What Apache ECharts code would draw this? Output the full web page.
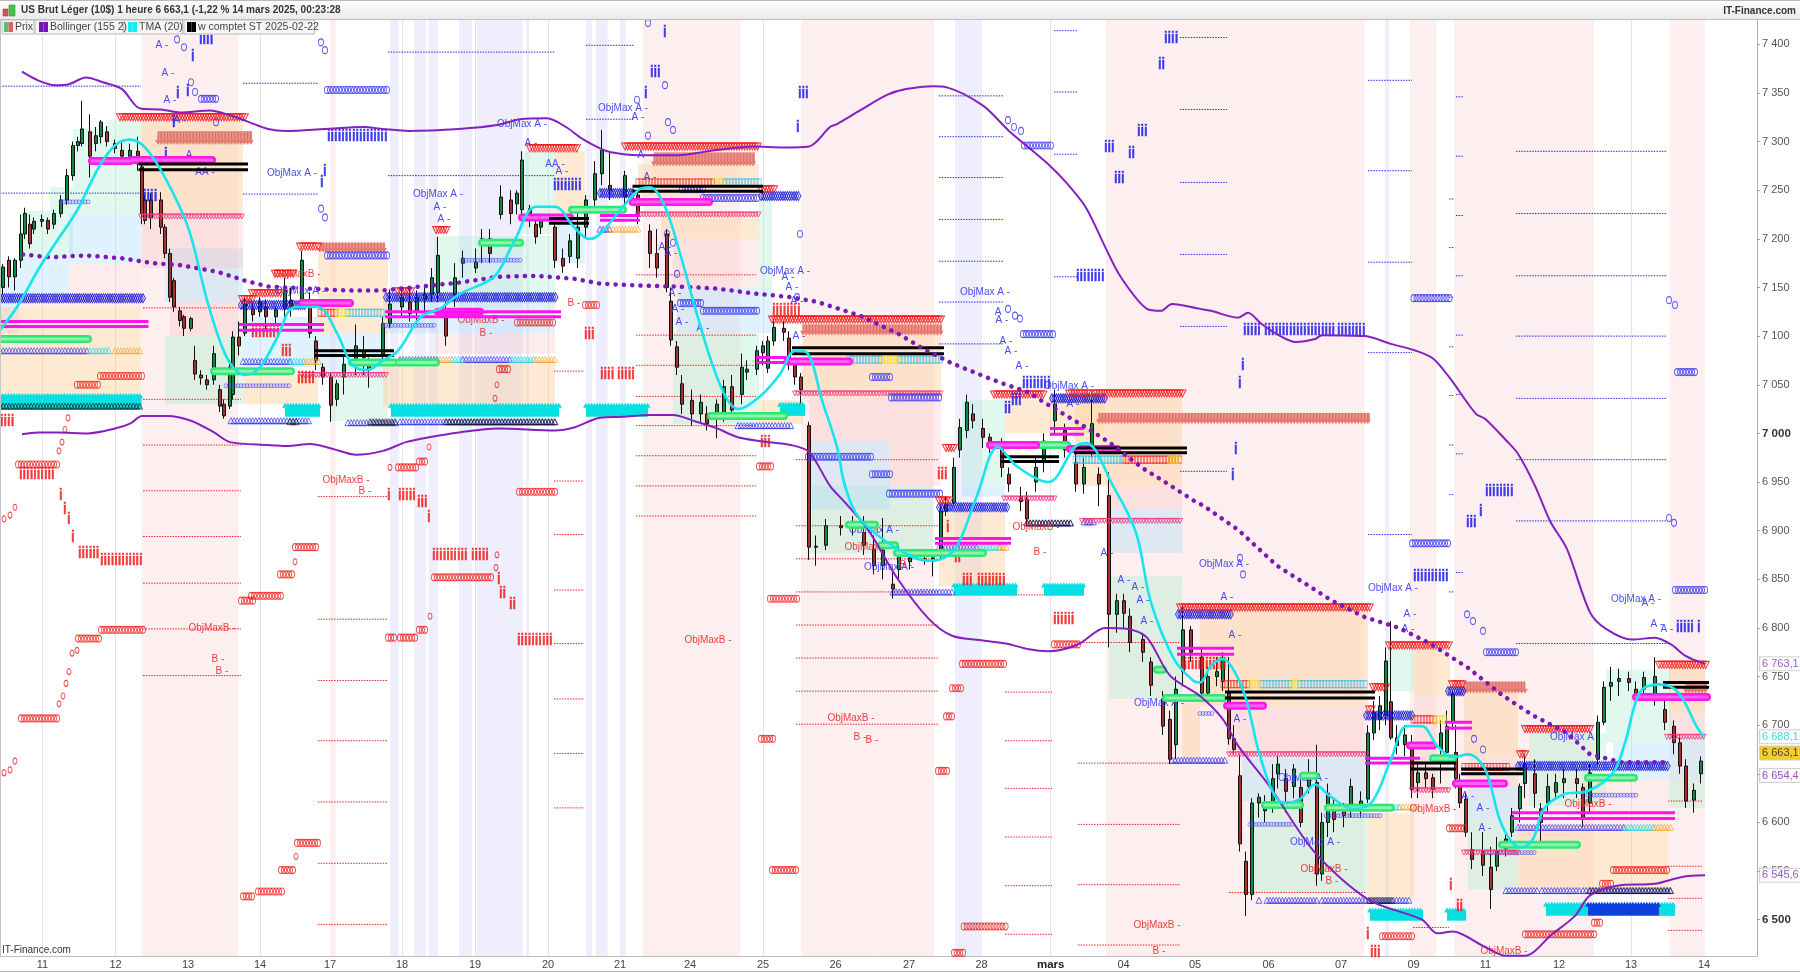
<!DOCTYPE html>
<html><head><meta charset="utf-8"><style>html,body{margin:0;padding:0;background:#fff}#c{width:1800px;height:972px}</style>
<script src="https://cdn.jsdelivr.net/npm/echarts@6/dist/echarts.min.js"></script></head>
<body><div id="c"></div>
<script>
// x values are positions on the chart's continuous trading-time scale (slots)
const xTickSlots=[42.5,115.6,188,260,330,402,475,548,620,690,763,835.6,909,981.5,1050.7,1123.6,1195,1268.5,1341,1413.5,1485.5,1559,1631,1704];
const xTickNames=['11','12','13','14','17','18','19','20','21','24','25','26','27','28','mars','04','05','06','07','09','11','12','13','14'];
const yTicks=[6500,6550,6600,6650,6700,6750,6800,6850,6900,6950,7000,7050,7100,7150,7200,7250,7300,7350,7400];
const priceTags=[['6 763,1',6763.1,'#8a2bc0','#fff',0],['6 688,1',6688.1,'#19c8d0','#fff',0],['6 663,1',6663.1,'#222','#f2c200',-8],['6 654,4',6654.4,'#8a2bc0','#fff',6],['6 545,6',6545.6,'#8a2bc0','#fff',0]];
const pinkBands=[[141.6,238.4],[330,335.6],[643,740.5],[801,934],[1106,1364.5],[1410,1436.5],[1454.5,1594],[1669.6,1705]];
const lavenderBands=[[390,398.8],[414,426],[428.6,438],[459,472],[476.5,522.8],[526,529],[586,592],[596,607.6],[620,625.6],[955,982],[1385,1389]];
// candles: slot, open, close, low, high
const candlesA=[[3,7150,7171,7143,7174],[9,7178,7161,7150,7182],[15,7161,7178,7147,7180],[21,7178,7205,7170,7225],[25,7205,7226,7200,7232],[30,7215,7195,7190,7225],[34,7210,7218,7205,7222],[42,7218,7220,7212,7225],[48,7219,7210,7205,7222],[54,7215,7226,7210,7230],[61,7226,7240,7222,7245],[67,7240,7265,7235,7272],[73,7265,7296,7260,7300],[78,7296,7300,7290,7305],[82,7298,7313,7295,7342],[90,7310,7285,7263,7328],[96,7298,7306,7290,7315],[101,7305,7320,7298,7322],[107,7310,7300,7295,7316],[115,7298,7293,7288,7302],[122,7291,7285,7280,7300],[130,7285,7291,7278,7298],[138,7290,7277,7270,7305],[142,7274,7226,7215,7280],[145,7240,7219,7215,7245],[151,7240,7222,7210,7247],[161,7240,7212,7205,7248],[165,7212,7185,7180,7215],[170,7185,7140,7135,7190],[174,7157,7130,7125,7160],[180,7126,7116,7110,7130],[184,7120,7108,7100,7122],[191,7108,7118,7105,7120],[195,7075,7061,7055,7090],[201,7060,7057,7050,7065],[207,7055,7050,7045,7060],[214,7055,7082,7050,7090],[220,7045,7028,7022,7050],[224,7030,7018,7015,7035],[230,7028,7068,7025,7075],[233,7040,7099,7035,7105],[239,7099,7090,7080,7115],[245,7103,7133,7100,7140],[253,7128,7122,7115,7135],[260,7125,7135,7120,7140],[266,7130,7120,7105,7138],[276,7120,7127,7112,7130],[285,7128,7147,7120,7160],[291,7137,7130,7120,7150],[302,7137,7178,7130,7188],[310,7137,7103,7098,7145],[316,7095,7075,7065,7100],[323,7068,7058,7050,7072],[331,7058,7029,7012,7062],[337,7035,7051,7028,7055],[344,7058,7071,7040,7080],[356,7075,7090,7060,7112],[364,7085,7078,7060,7100],[369,7073,7065,7047,7078]];
const candlesB=[[383,7082,7113,7075,7120],[390,7113,7133,7108,7148],[402,7130,7140,7120,7150],[410,7135,7123,7115,7150],[417,7125,7140,7112,7147],[425,7138,7143,7125,7150],[432,7143,7160,7135,7170],[438,7145,7183,7135,7202],[446,7123,7100,7090,7135],[455,7143,7160,7130,7175],[463,7175,7180,7160,7188],[476,7170,7176,7165,7190],[482,7195,7200,7175,7210],[490,7200,7185,7175,7210],[501,7225,7243,7220,7255],[511,7240,7226,7215,7250],[517,7236,7247,7225,7250],[522,7230,7281,7220,7290],[530,7231,7219,7212,7235],[536,7215,7202,7195,7220],[541,7212,7219,7205,7225],[555,7212,7178,7170,7215],[563,7180,7172,7165,7190],[570,7182,7198,7175,7205],[578,7180,7212,7170,7230],[586,7212,7240,7200,7245],[595,7240,7267,7230,7280],[602,7267,7291,7255,7312],[610,7255,7250,7240,7290],[625,7243,7265,7235,7270],[638,7245,7225,7215,7250],[650,7208,7185,7170,7215],[657,7185,7170,7160,7210],[667,7205,7150,7145,7210],[671,7136,7096,7090,7150],[677,7089,7068,7060,7095],[682,7051,7030,7020,7060],[692,7034,7020,7008,7045],[701,7020,7032,7012,7040],[707,7020,7010,7003,7028],[717,7015,7030,6995,7035],[724,7020,7048,7012,7055],[732,7048,7024,7015,7060],[742,7040,7068,7030,7082],[747,7063,7066,7055,7075],[757,7066,7085,7060,7090],[763,7083,7090,7070,7095],[768,7067,7095,7062,7100],[774,7095,7109,7090,7118],[784,7108,7104,7095,7115],[789,7098,7072,7065,7105],[795,7070,7058,7050,7078],[801,7058,7045,7020,7062]];
const candlesC=[[809,7008,6883,6870,7012],[816,6883,6884,6864,6895],[826,6885,6905,6880,6912],[841,6905,6903,6895,6915],[853,6904,6906,6895,6915],[864,6898,6885,6875,6915],[874,6881,6864,6855,6895],[883,6864,6880,6850,6913],[893,6845,6840,6830,6860],[899,6860,6877,6850,6885],[910,6868,6872,6860,6880],[925,6870,6871,6865,6878],[933,6870,6872,6853,6880],[941,6878,6920,6870,6925],[946,6920,6927,6915,6935],[954,6929,6965,6925,6975],[960,6983,7006,6975,7015],[967,7003,7032,6995,7040],[973,7020,7013,7005,7030],[983,7005,6996,6985,7015],[990,6996,6986,6980,7000],[1002,6985,6965,6955,6995],[1009,6958,6948,6940,6965],[1021,6935,6930,6920,6945],[1027,6932,6912,6905,6940],[1036,6950,6965,6940,6975],[1044,6970,6992,6960,7000],[1055,7013,7030,7000,7045],[1065,7003,6983,6975,7010],[1076,6970,6948,6940,6980],[1084,6948,6965,6938,6975],[1092,6983,7010,6975,7035],[1099,6958,6948,6925,6965],[1109,6936,6814,6780,6960],[1117,6814,6828,6795,6835],[1124,6828,6815,6800,6835],[1130,6812,6785,6775,6820],[1143,6788,6775,6765,6795],[1151,6765,6741,6730,6770],[1163,6727,6699,6690,6735],[1170,6706,6665,6660,6715],[1176,6680,6737,6665,6750],[1183,6755,6798,6740,6825],[1191,6798,6775,6765,6802],[1202,6770,6733,6725,6780],[1208,6733,6750,6725,6760],[1217,6750,6755,6740,6770],[1223,6745,6768,6735,6775],[1229,6733,6686,6680,6770],[1234,6686,6675,6670,6700]];
const candlesD=[[1240,6648,6578,6570,6670],[1246,6560,6526,6504,6570],[1252,6526,6620,6520,6625],[1259,6620,6626,6605,6630],[1265,6620,6612,6600,6628],[1273,6620,6645,6610,6660],[1278,6650,6660,6635,6668],[1286,6645,6632,6610,6655],[1294,6637,6655,6625,6660],[1301,6636,6600,6595,6645],[1309,6637,6651,6630,6665],[1317,6641,6547,6535,6680],[1322,6547,6600,6540,6610],[1328,6600,6630,6585,6640],[1334,6612,6603,6590,6625],[1344,6615,6607,6595,6620],[1351,6617,6637,6605,6645],[1361,6617,6622,6605,6632],[1368,6624,6692,6620,6700],[1374,6692,6713,6685,6725],[1380,6706,6720,6695,6730],[1386,6710,6766,6700,6780],[1391,6724,6687,6685,6807],[1397,6687,6679,6670,6700],[1405,6680,6690,6668,6700],[1412,6682,6634,6625,6690],[1418,6641,6651,6625,6660],[1426,6651,6645,6635,6660],[1433,6646,6634,6625,6650],[1441,6675,6692,6640,6705],[1447,6672,6699,6660,6715],[1453,6703,6732,6695,6735],[1456,6672,6645,6635,6700],[1460,6641,6620,6615,6650],[1466,6624,6590,6585,6630],[1472,6572,6562,6552,6590],[1483,6570,6556,6545,6590],[1491,6554,6531,6511,6575],[1497,6555,6570,6550,6585],[1506,6573,6583,6565,6590],[1512,6590,6607,6585,6615],[1520,6614,6637,6600,6640],[1525,6640,6660,6625,6670],[1535,6650,6630,6615,6665],[1541,6614,6600,6580,6620],[1548,6620,6637,6610,6650],[1556,6631,6641,6625,6650],[1564,6641,6645,6625,6655],[1577,6645,6640,6625,6655],[1583,6636,6603,6595,6640],[1590,6620,6651,6610,6660],[1598,6665,6703,6660,6710],[1604,6703,6739,6700,6745],[1611,6740,6744,6725,6760],[1619,6745,6748,6730,6758],[1629,6748,6744,6735,6755],[1636,6737,6727,6720,6745],[1644,6737,6749,6725,6755],[1655,6727,6750,6720,6770],[1665,6716,6703,6695,6730],[1674,6699,6682,6670,6705],[1680,6682,6658,6650,6690],[1686,6658,6622,6615,6665],[1694,6623,6633,6610,6640],[1701,6650,6663.1,6640,6668]];
const bollUpper=[[22,7372],[38,7363],[55,7358],[69,7359],[86,7366],[103,7361],[122,7354],[140,7334],[161,7333],[180,7330],[210,7332],[230,7327],[249,7320],[268,7313],[287,7311],[325,7313],[364,7315],[383,7313],[409,7311],[459,7313],[497,7317],[520,7323],[547,7324],[566,7315],[582,7303],[600,7293],[611,7289],[638,7286],[677,7286],[715,7291],[753,7295],[784,7294],[809,7295],[830,7315],[837,7318],[860,7332],[887,7348],[906,7354],[933,7357],[946,7356],[983,7337],[1009,7311],[1048,7277],[1067,7257],[1086,7232],[1105,7192],[1120,7162],[1147,7128],[1161,7126],[1172,7133],[1200,7128],[1211,7126],[1238,7119],[1248,7124],[1261,7113],[1277,7102],[1296,7094],[1315,7097],[1322,7101],[1365,7100],[1391,7092],[1416,7085],[1433,7077],[1449,7058],[1476,7020],[1485,7015],[1506,6993],[1518,6979],[1535,6946],[1550,6910],[1567,6881],[1590,6816],[1606,6799],[1632,6788],[1655,6790],[1671,6783],[1686,6771],[1705,6763.1]];
const bollLower=[[22,6999],[38,7001],[57,7001],[88,7000],[115,7005],[130,7010],[142,7018],[168,7018],[191,7013],[214,7001],[230,6991],[268,6988],[287,6987],[310,6989],[333,6984],[356,6978],[383,6982],[406,6991],[429,6996],[459,7001],[498,7005],[555,7003],[574,7006],[600,7016],[623,7017],[650,7019],[673,7019],[696,7012],[715,7006],[738,6996],[761,6992],[791,6988],[809,6981],[830,6946],[845,6929],[868,6901],[898,6850],[929,6809],[952,6792],[983,6787],[1006,6784],[1029,6778],[1048,6776],[1078,6783],[1105,6800],[1128,6799],[1147,6790],[1170,6751],[1200,6730],[1223,6706],[1238,6679],[1269,6638],[1315,6569],[1368,6521],[1422,6500],[1437,6486],[1453,6488],[1483,6473],[1506,6463],[1525,6463],[1552,6485],[1575,6504],[1590,6525],[1617,6535],[1655,6537],[1682,6544],[1705,6545.6]];
const bollMiddle=[[23,7184],[50,7181],[86,7183],[122,7180],[153,7175],[180,7173],[218,7166],[245,7157],[268,7151],[306,7149],[344,7147],[383,7147],[421,7151],[459,7155],[498,7161],[536,7162],[574,7159],[600,7154],[638,7152],[677,7151],[715,7149],[753,7144],[791,7140],[818,7135],[860,7121],[899,7102],[925,7086],[952,7072],[998,7053],[1029,7042],[1044,7032],[1086,7006],[1109,6991],[1143,6964],[1165,6950],[1195,6930],[1203,6926],[1238,6901],[1277,6864],[1332,6828],[1365,6811],[1399,6800],[1430,6784],[1468,6759],[1502,6731],[1533,6710],[1567,6692],[1590,6670],[1621,6662],[1671,6662]];
const tma20=[[0,7106],[19,7133],[38,7168],[57,7198],[77,7229],[99,7274],[115,7296],[130,7302],[145,7294],[165,7263],[188,7212],[207,7137],[222,7089],[233,7068],[245,7060],[260,7068],[276,7096],[295,7130],[318,7130],[337,7103],[352,7071],[367,7065],[383,7075],[398,7085],[421,7120],[440,7128],[459,7143],[494,7161],[513,7195],[536,7233],[555,7233],[574,7212],[589,7200],[600,7205],[638,7250],[650,7253],[665,7233],[680,7185],[696,7126],[711,7075],[726,7037],[738,7025],[761,7039],[780,7061],[795,7085],[807,7083],[822,7034],[837,6986],[845,6946],[860,6912],[898,6881],[929,6869],[944,6872],[958,6886],[977,6936],[998,6986],[1017,6966],[1048,6950],[1075,6986],[1086,6990],[1113,6946],[1136,6898],[1151,6826],[1174,6768],[1193,6746],[1200,6744],[1211,6761],[1223,6768],[1234,6756],[1246,6727],[1259,6672],[1273,6631],[1284,6620],[1300,6624],[1315,6639],[1330,6627],[1353,6614],[1372,6621],[1391,6665],[1407,6699],[1422,6699],[1437,6679],[1453,6667],[1468,6670],[1485,6655],[1502,6597],[1521,6574],[1533,6583],[1544,6614],[1564,6629],[1587,6632],[1613,6651],[1625,6682],[1640,6734],[1659,6742],[1678,6734],[1697,6698],[1704,6688.1]];
// pastel zones: x0,x1,top,bottom
const zoneGreen=[[21,50,7229,7181],[50,73,7253,7181],[73,107,7313,7226],[107,141,7322,7226],[165,243,7100,7030],[330,388,7058,7013],[434,555,7203,7143],[520,555,7290,7205],[673,759,7103,7010],[759,772,7243,7150],[812,933,6946,6877],[962,1005,7034,6946],[1109,1182,6853,6727],[1252,1368,6622,6528],[1388,1414,6782,6735],[1468,1518,6603,6531],[1529,1606,6692,6617],[1606,1671,6757,6682],[1669,1705,6644,6615]];
const zoneBlue=[[0,19,7171,7103],[19,69,7181,7143],[69,141,7226,7174],[165,243,7190,7135],[243,318,7120,7068],[318,388,7103,7058],[383,555,7140,7103],[555,585,7226,7175],[677,759,7150,7103],[759,772,7150,7103],[810,890,6992,6922],[962,1005,6946,6935],[1109,1182,6922,6877],[1242,1368,6667,6622],[1468,1518,6636,6603],[1613,1669,6682,6644],[1669,1705,6685,6644]];
const zonePink=[[19,69,7143,7130],[69,141,7174,7130],[141,243,7226,7170],[170,243,7135,7100],[436,555,7103,7082],[673,759,7200,7150],[810,941,7037,6992],[890,941,6992,6946],[1109,1182,6946,6922],[1227,1368,6720,6670],[1414,1450,6730,6631],[1468,1518,6668,6636],[1583,1669,6644,6597],[1669,1705,6713,6685]];
const zoneOrange=[[0,141,7130,7034],[141,243,7322,7226],[243,318,7060,7030],[318,388,7185,7103],[383,555,7075,7027],[555,585,7290,7226],[638,759,7277,7243],[661,759,7226,7200],[759,803,7034,7010],[803,941,7102,7037],[939,1005,6919,6843],[1005,1105,7034,7000],[1075,1182,7037,6946],[1182,1200,6723,6665],[1200,1368,6820,6720],[1368,1414,6610,6521],[1414,1450,6778,6730],[1464,1518,6733,6668],[1518,1669,6597,6531],[1669,1705,6764,6713]];
const dotBlue=[[0,141,7357],[0,141,7247],[243,318,7360],[243,318,7246],[388,555,7392],[388,555,7265],[586,634,7399],[586,634,7323],[939,1004,7347],[939,1004,7305],[939,1004,7263],[939,1004,7220],[939,1004,7177],[939,1004,7135],[939,1004,7092],[1054,1077,7414],[1054,1077,7351],[1054,1077,7287],[1054,1077,7161],[1180,1227,7407],[1180,1227,7333],[1180,1227,7258],[1180,1227,7184],[1180,1227,7110],[1180,1227,6961],[1368,1412,7363],[1368,1412,7270],[1368,1412,7176],[1368,1412,7083],[1368,1412,6896],[1456,1464,7346],[1456,1464,7285],[1456,1464,7224],[1456,1464,7162],[1456,1464,7101],[1456,1464,7040],[1456,1464,6979],[1456,1464,6857],[1449,1454,7241],[1449,1454,7191],[1449,1454,7140],[1449,1454,7089],[1449,1454,7039],[1449,1454,6988],[1449,1454,6937],[1449,1454,6837],[1516,1667,7290],[1516,1667,7226],[1516,1667,7162],[1516,1667,7100],[1516,1667,7036],[1516,1667,6973],[1516,1667,6910],[1516,1667,6784]];
const dotRed=[[143,241,7129],[143,241,7035],[143,241,6988],[143,241,6941],[143,241,6894],[143,241,6846],[143,241,6799],[143,241,6751],[318,387,6935],[318,387,6809],[318,387,6746],[318,387,6684],[318,387,6621],[318,387,6558],[318,387,6495],[554,584,7064],[554,584,6951],[554,584,6896],[554,584,6839],[554,584,6784],[554,584,6727],[554,584,6671],[554,584,6615],[636,756,7163],[636,756,7101],[636,756,7070],[636,756,7038],[636,756,7008],[636,756,6977],[636,756,6946],[636,756,6915],[796,938,6973],[796,938,6905],[796,938,6871],[796,938,6837],[796,938,6803],[796,938,6769],[796,938,6735],[796,938,6701],[1005,1052,6734],[1005,1052,6684],[1005,1052,6635],[1005,1052,6585],[1005,1052,6535],[1005,1052,6485],[1015,1044,6834],[1078,1180,6785],[1078,1180,6661],[1078,1180,6598],[1078,1180,6536],[1078,1180,6474],[1229,1366,6528],[1413,1449,6492],[1668,1703,6622],[1668,1703,6555],[1668,1703,6522],[1668,1703,6489]];
const magentaLines=[[0,148.5,7115],[0,148.5,7110],[239,324,7112],[239,324,7106],[385,561,7125],[385,561,7120],[600,640,7224],[600,640,7219],[756,790,7078],[756,790,7073],[1050,1084,7005],[1050,1084,6999],[935,1011,6892],[935,1011,6887],[1177,1234,6779],[1177,1234,6773],[1365,1420,6666],[1365,1420,6661],[1445,1472,6703],[1445,1472,6697],[1512,1675,6610],[1512,1675,6604]];
const blackLines=[[138.5,248,7277],[138.5,248,7271],[314,394,7085],[314,394,7080],[549,589,7221],[549,589,7216],[632.5,763,7254],[632.5,763,7249],[792,944,7088],[792,944,7082],[1001,1059,6976],[1001,1059,6971],[1074,1187,6985],[1074,1187,6980],[1225,1375,6734],[1225,1375,6728],[1410,1456,6661],[1410,1456,6655],[1461,1523,6655],[1461,1523,6650],[1663,1709,6744],[1663,1709,6739]];
const magentaPills=[[92,130,7280],[132,212,7281],[302,350,7134],[438,480,7125],[522,570,7222],[632.5,709,7238],[787.5,849,7074],[990,1036,6988],[1070,1117,6984],[1227,1263,6720],[1410,1433,6679],[1456,1504,6640],[1636,1707,6729]];
const greenPills=[[0,88,7097],[214,291,7064],[352,394,7073],[398,436,7073],[482,520,7196],[572,623,7230],[711,784,7018],[849,875,6906],[881,895,6885],[897,983,6877],[1038,1067,6988],[1157,1163,6757],[1166,1223,6728],[1265,1300,6618],[1328,1391,6615],[1303,1315,6648],[1502,1577,6577],[1588,1634,6646],[1433,1453,6666]];
const cyanBlocks=[[0,141.6,7039,7025],[285,320,7029,7017],[391,559,7029,7017],[586,648,7029,7017],[780,805,7030,7018],[954,1017,6844,6833],[1044,1084,6844,6833],[1370,1423,6510,6499],[1447,1466,6510,6499],[1546,1588,6516,6504],[1659,1675,6516,6504]];
const deepBlueBlocks=[[1588,1659,6516,6504]];
const salmonBlocks=[[158,252,7311,7299],[320,385,7196,7188],[654,755,7289,7277],[803,942,7112,7103],[1099,1370,7021,7012],[1464,1525,6745,6735],[1686,1707,6745,6735]];
const triDownRed=[[120,245,7325],[530,578,7293],[300,320,7192],[242,254,7138],[252,283,7144],[436,448,7209],[398,411,7146],[275,295,7164],[625,759,7295],[761,775,7251],[772,942,7117],[994,1044,7040],[1069,1090,7041],[1094,1184,7041],[946,956,6985],[939,950,6931],[1180,1370,6821],[1389,1449,6782],[1452,1464,6742],[1525,1590,6696],[1659,1707,6762],[1520,1527,6670],[1373,1386,6739],[1369,1372,6716]];
const pinkRows=[[141,243,7223],[302,388,7060],[638,759,7225],[795,941,7041],[1004,1055,6933],[1082,1182,6910],[1229,1368,6670],[1412,1449,6633],[1464,1518,6569],[1667,1705,6688]];
const blueHatchRows=[[0,143,7139],[241,306,7132],[386,557,7140],[600,634,7247],[761,799,7244],[1052,1105,7036],[939,1008,6924],[1178,1232,6814],[1366,1414,6710],[1448,1464,6735],[1518,1669,6658]];
const blueSmallRows=[[61,88,7238],[463,520,7178],[383,436,7111],[226,289,7049],[1250,1292,6598],[1326,1380,6607],[1588,1636,6628],[1486,1535,6569],[1200,1212,6712]];
const triUpBlue=[[231,310,7013],[348,367,7011],[371,396,7011],[400,557,7012],[738,793,7008],[893,954,6837],[1027,1071,6908],[1084,1096,6909],[1172,1227,6664],[1259,1262,6520],[1267,1317,6520],[1322,1410,6520],[1506,1540,6530],[1542,1581,6530],[1583,1671,6530]];
const triUpBlack=[[0,141,7028],[446,557,7012],[1027,1071,6908],[1370,1392,6520],[1590,1671,6530],[290,298,7012],[370,396,7012]];
const triMixBlue=[[0,88,7085],[243,291,7074],[400,440,7076],[463,512,7076],[939,977,6883],[1518,1625,6595],[1330,1380,6616],[600,610,7210]];
const triMixCyan=[[90,111,7085],[291,306,7074],[452,462,7076],[512,536,7076],[977,1000,6883],[1380,1400,6616],[1625,1655,6595]];
const triMixOrange=[[115,141,7085],[306,319,7074],[440,452,7076],[536,555,7076],[610,638,7210],[1000,1008,6883],[1400,1416,6616],[1655,1671,6595]];
const rainbowRed=[[320,337,7124],[638,715,7258],[1223,1250,6742],[1413,1435,6706],[1124,1180,6973],[1464,1510,6657]];
const rainbowYellow=[[337,348,7124],[715,725,7258],[880,900,7076],[1250,1262,6742],[1290,1300,6742],[1435,1445,6706],[1170,1182,6973]];
const rainbowCyan=[[348,385,7124],[725,760,7258],[849,880,7076],[900,941,7076],[1262,1290,6742],[1300,1368,6742],[1075,1124,6973]];
const blueORows=[[327,388,7353],[327,388,7183],[201,216,7344],[682,703,7251],[703,757,7242],[680,701,7134],[703,757,7126],[808,872,6976],[872,891,6958],[872,891,7058],[891,940,7037],[889,940,6938],[1023,1053,7102],[1024,1053,7296],[1413.5,1450,7139],[1412,1450,6887],[1677,1696,7063],[1486,1518,6775],[1675,1705,6839]];
const redORows=[[78,101,6789],[101,143.5,6798],[21,59,6707],[241,253,6828],[251,283,6833],[295,318,6883],[280,294,6855],[243,253,6524],[258,283,6529],[281,294,6551],[297,318,6579],[434,492,6852],[519,555,6940],[400,417,6790],[419,427,6798],[388,394,6790],[100,142,7059],[77,100,7050],[18,59,6968],[517,555,7114],[499,509,7066],[585,597,7132],[770,797,6830],[761,773,6686],[772,797,6551],[962,1006,6763],[952,963,6738],[946,954,6709],[938,948,6653],[963.6,1006,6493],[954,963,6466],[1054,1078,6783],[759,772,6966],[1382,1414,6483],[1525,1595,6485],[1594,1602,6497],[1613,1669,6551],[1449,1466,6594],[1602,1613,6537],[398,417,6965],[419,427,6971]];
const blueIRows=[[327,387,7305],[199,214,7405],[143,157,7243],[553,582,7255],[798,807,7349],[650,661,7371],[644,649,7349],[1164,1179,7406],[1158,1164,7379],[1137,1146,7310],[1104,1113,7294],[1128,1136,7288],[1114,1123,7262],[1076,1104,7161],[1022,1051,7051],[1011,1021,7034],[1004,1010,7025],[1243,1260,7106],[1264,1334,7106],[1337,1366,7106],[1485,1515,6940],[1413,1449,6853],[1466,1476,6908],[1479,1484,6920],[1676,1694,6800],[1697,1702,6800],[191,194,7387],[164,167,7287],[323,326,7269],[320,325,7258],[176,179,7349],[186,191,7351],[663,666,7412],[796,799,7314],[1241,1244,7070],[1238,1241,7051],[1234,1237,6983],[1231,1236,6957],[172,175,7320]];
const redIRows=[[78,98,6876],[100,141,6869],[59,62,6936],[63,66,6922],[67,70,6911],[71,76,6893],[432,467,6874],[471,490,6874],[499,507,6835],[509,516,6824],[517,553,6787],[387,392,6936],[398,414,6936],[417,426,6929],[427,431,6913],[497,500,6850],[19,56,6958],[0,15,7012],[251,280,7104],[281,292,7084],[297,316,7056],[584,595,7102],[600,615,7060],[617,634,7060],[760,770,6991],[772,799,7126],[946,951,6903],[954,960,6872],[962,973,6849],[977,1004,6849],[1053,1076,6809],[937,946,6958],[1180,1227,6762],[1449,1453,6535],[1456,1464,6514],[1366,1369,6485],[1370,1382,6466]];
const blueGlyphs=[['A -',162,7399],['A -',168,7370],['A -',170,7343],['A -',180,7322],['AA -',205,7268],['A',189,7286],['ObjMax A -',292,7267],['ObjMax A -',438,7246],['A -',440,7232],['A -',444,7220],['ObjMax A -',522,7318],['A -',531,7298],['AA -',555,7277],['A -',562,7269],['ObjMax A -',300,7146],['ObjMax A -',623,7334],['A -',638,7325],['A -',644,7286],['A -',650,7263],['A -',665,7191],['A -',671,7185],['A -',675,7144],['A -',678,7128],['A -',682,7114],['A -',703,7108],['ObjMax A -',785,7167],['A -',788,7161],['A -',792,7150],['A -',797,7136],['A -',799,7100],['ObjMax A -',985,7145],['A',998,7125],['A -',1002,7116],['A -',1006,7095],['A -',1011,7084],['A -',1022,7069],['ObjMax A -',1069,7048],['A -',1073,7030],['ObjMax A -',874,6900],['ObjMax A -',889,6862],['A -',1124,6849],['A -',1138,6842],['A -',1143,6828],['A -',1147,6807],['A -',1107,6877],['ObjMax A -',1159,6723],['ObjMax A -',1224,6865],['A -',1227,6832],['A -',1235,6792],['A -',1240,6706],['ObjMax A -',1393,6841],['A -',1410,6814],['A -',1408,6799],['ObjMax A -',1315,6580],['ObjMax A -',1303,6645],['A -',1468,6627],['A -',1483,6615],['A -',1485,6594],['ObjMax A -',1575,6688],['ObjMax A -',1636,6829],['A -',1648,6825],['A -',1657,6804],['A -',1667,6799]];
const redGlyphs=[['ObjMaxB -',212,6800],['B -',218,6768],['B -',222,6755],['ObjMaxB -',346,6952],['ObjMaxB -',481,7116],['ObjMaxB -',297,7164],['B -',486,7103],['B -',574,7134],['B -',365,6940],['ObjMaxB -',708,6787],['ObjMaxB -',851,6707],['B -',860,6688],['B -',872,6684],['ObjMaxB -',1036,6904],['B -',1040,6878],['B -',906,6864],['ObjMaxB -',868,6883],['ObjMaxB -',1157,6494],['B -',1159,6468],['ObjMaxB -',1324,6552],['B -',1332,6540],['ObjMaxB -',1433,6614],['ObjMaxB -',1504,6468],['ObjMaxB -',1588,6619]];
const blueOs=[[177,7405],[184,7397],[191,7361],[195,7351],[216,7320],[321,7402],[325,7394],[321,7231],[325,7222],[648,7422],[665,7358],[637,7343],[668,7320],[673,7312],[648,7306],[797,7140],[800,7205],[667,7205],[673,7196],[677,7164],[1008,7322],[1014,7315],[1021,7311],[1008,7128],[1015,7121],[1020,7118],[1669,7137],[1675,7132],[1669,6913],[1674,6908],[1467,6814],[1473,6807],[1483,6797],[1240,6872],[1243,6855],[1483,6675],[1474,6686]];
const redOs=[[59,6722],[63,6730],[66,6743],[69,6755],[72,6774],[77,6777],[295,6868],[296,6565],[15,6924],[10,6916],[4,6912],[15,6663],[10,6654],[4,6651],[430,6812],[497,6875],[496,6862],[68,7016],[65,7004],[62,6991],[59,6982],[390,6965],[429,6986],[497,7050],[495,7036]];

const FONT='"Liberation Sans",Arial,sans-serif';
const Y_MIN=6462.7,Y_MAX=7425,X_MAX=1757;
const fmtPrice=v=>{const s=String(v);return s[0]+' '+s.slice(1)};

function rects(name,rows,color,z){return{type:'custom',name,z,silent:true,animation:false,data:rows,encode:{x:[0,1],y:[2,3]},
 renderItem:(p,api)=>{const a=api.coord([api.value(0),api.value(2)]),b=api.coord([api.value(1),api.value(3)]);
  return{type:'rect',shape:{x:a[0],y:a[1],width:b[0]-a[0],height:b[1]-a[1]},style:{fill:color}}}}}
function segs(name,rows,style,z){return{type:'custom',name,z,silent:true,animation:false,data:rows,encode:{x:[0,1],y:2},
 renderItem:(p,api)=>{const a=api.coord([api.value(0),api.value(2)]),b=api.coord([api.value(1),api.value(2)]);
  return{type:'line',shape:{x1:a[0],y1:a[1],x2:b[0],y2:b[1]},style:Object.assign({fill:null},style)}}}}
function marks(name,rows,o){const pts=[];rows.forEach(r=>{for(let x=r[0];x<=r[1]+.01;x+=o.step)pts.push([x,r[2]])});
 return{type:'scatter',name,z:o.z||6,silent:true,animation:false,large:false,symbol:o.symbol,symbolSize:o.size,symbolRotate:o.rotate||0,data:pts,
  itemStyle:o.filled?{color:o.color,opacity:o.opacity||1}:{color:'rgba(0,0,0,0)',borderColor:o.color,borderWidth:o.bw||.8}}}
function iRows(name,rows,color){return{type:'scatter',name,z:7,silent:true,animation:false,symbolSize:0,
 data:rows.map(r=>({value:[r[0],r[2]],label:{formatter:'i'.repeat(Math.max(1,Math.round((r[1]-r[0])/3.55)))}})),
 label:{show:true,position:'right',distance:0,color,fontFamily:FONT,fontSize:16,padding:0,textBorderColor:color,textBorderWidth:.6}}}
function glyphs(name,rows,color){return{type:'scatter',name,z:7,silent:true,animation:false,symbolSize:0,
 data:rows.map(r=>({value:[r[1],r[2]],label:{formatter:r[0]}})),
 label:{show:true,position:'inside',color,fontFamily:FONT,fontSize:10,opacity:.9}}}
const candleData=[].concat(candlesA,candlesB,candlesC,candlesD);

const series=[
 rects('rose',pinkBands.map(b=>[b[0],b[1],Y_MAX,Y_MIN]),'#fdefef',1),
 rects('lav',lavenderBands.map(b=>[b[0],b[1],Y_MAX,Y_MIN]),'#eeeefd',1),
 rects('zG',zoneGreen,'rgba(170,235,205,.36)',2),
 rects('zB',zoneBlue,'rgba(165,220,250,.36)',2),
 rects('zP',zonePink,'rgba(250,185,185,.28)',2),
 rects('zO',zoneOrange,'rgba(253,205,150,.42)',2),
 segs('dotB',dotBlue,{stroke:'#2a2aee',lineWidth:1,lineDash:[1.5,1.2]},3),
 segs('dotR',dotRed,{stroke:'#e8262a',lineWidth:1,lineDash:[1.5,1.2]},3),
 {type:'candlestick',name:'Prix',z:4,silent:true,animation:false,barWidth:3,data:candleData,encode:{x:0,y:[1,2,3,4]},
  itemStyle:{color:'#0e8a45',color0:'#a83030',borderColor:'#111',borderColor0:'#111',borderWidth:1}},
 rects('cyanB',cyanBlocks,'#06e0e2',5),
 rects('deepB',deepBlueBlocks,'#0a3fe0',5),
 marks('cyanTop',cyanBlocks.map(b=>[b[0],b[1],b[2]]),{symbol:'triangle',size:[6,5],color:'#06e0e2',step:2.8,filled:true,z:5}),
 marks('deepTop',deepBlueBlocks.map(b=>[b[0],b[1],b[2]]),{symbol:'triangle',size:[6,5],color:'#0a3fe0',step:2.8,filled:true,z:5}),
 rects('salmon',salmonBlocks,'#ee9088',5),
 marks('salmonHatch',salmonBlocks.map(b=>[b[0],b[1],(b[2]+b[3])/2]),{symbol:'rect',size:[1,9],color:'#d66a60',step:3.2,filled:true,z:5}),
 marks('salmonChev',salmonBlocks.map(b=>[b[0],b[1],b[3]]),{symbol:'triangle',rotate:180,size:[6,5],color:'#e87a72',step:3.2,filled:true,z:5}),
 marks('blueHatch',blueHatchRows,{symbol:'diamond',size:[5,9],color:'#1010d8',step:2.2,z:6,bw:1.1}),
 marks('blueSmall',blueSmallRows,{symbol:'circle',size:4,color:'#4a4af5',step:3,z:6}),
 marks('triUpB',triUpBlue,{symbol:'triangle',size:6,color:'#1c1ce8',step:3.1,z:6}),
 marks('triUpK',triUpBlack,{symbol:'triangle',size:6,color:'#111',step:3.1,z:6}),
 marks('triMB',triMixBlue,{symbol:'triangle',size:6,color:'#2f2ff0',step:3.1,z:6}),
 marks('triMC',triMixCyan,{symbol:'triangle',size:6,color:'#19d0e8',step:3.1,z:6}),
 marks('triMO',triMixOrange,{symbol:'triangle',size:6,color:'#f5a020',step:3.1,z:6}),
 marks('rbR',rainbowRed,{symbol:'rect',size:[4,7],color:'#ee2020',step:3.1,z:6}),
 marks('rbY',rainbowYellow,{symbol:'rect',size:[4,7],color:'#f5e000',step:3.1,z:6}),
 marks('rbC',rainbowCyan,{symbol:'rect',size:[4,7],color:'#2ab8ee',step:3.1,z:6}),
 marks('pinkRow',pinkRows,{symbol:'triangle',rotate:180,size:5,color:'#f03580',step:2.8,z:6,bw:1}),
 marks('triRed',triDownRed,{symbol:'triangle',rotate:180,size:7,color:'#f41818',step:2.6,z:7,bw:1.1}),
 marks('oBlue',blueORows,{symbol:'circle',size:[5,7],color:'#2e2ef5',step:3,z:6,bw:1}),
 marks('oRed',redORows,{symbol:'circle',size:[5,7],color:'#f01818',step:3,z:6,bw:1}),
 marks('oBlueS',blueOs.map(p=>[p[0],p[0],p[1]]),{symbol:'circle',size:[5,7],color:'#2e2ef5',step:5,z:6,bw:1}),
 marks('oRedS',redOs.map(p=>[p[0],p[0],p[1]]),{symbol:'circle',size:[4,6],color:'#f01818',step:5,z:6,bw:1}),
 segs('gpOut',greenPills,{stroke:'#2fe870',lineWidth:8,lineCap:'round'},8),
 segs('gpIn',greenPills,{stroke:'#8ff0b0',lineWidth:3,lineCap:'round'},8),
 segs('mpOut',magentaPills,{stroke:'#ff18e8',lineWidth:8,lineCap:'round'},8),
 segs('mpIn',magentaPills,{stroke:'#ff5cf0',lineWidth:3,lineCap:'round'},8),
 segs('magenta',magentaLines,{stroke:'#ff10ee',lineWidth:3},8),
 segs('black',blackLines,{stroke:'#000',lineWidth:3},9),
 iRows('iBlue',blueIRows,'#1414f0'),
 iRows('iRed',redIRows,'#f01414'),
 glyphs('gBlue',blueGlyphs,'#3636f5'),
 glyphs('gRed',redGlyphs,'#ee2a2a'),
 {type:'line',name:'Bollinger up',z:10,silent:true,animation:false,symbol:'none',smooth:.3,data:bollUpper,lineStyle:{color:'#8420c0',width:2}},
 {type:'line',name:'Bollinger low',z:10,silent:true,animation:false,symbol:'none',smooth:.3,data:bollLower,lineStyle:{color:'#8420c0',width:2}},
 {type:'line',name:'Bollinger mid',z:10,silent:true,animation:false,symbol:'none',data:bollMiddle,lineStyle:{color:'#7a18b8',width:4.5,type:[.1,8.2],cap:'round'}},
 {type:'line',name:'TMA',z:11,silent:true,animation:false,symbol:'none',smooth:.35,data:tma20,lineStyle:{color:'#16e4ee',width:2.6}},
 {type:'scatter',name:'tags',z:20,silent:true,animation:false,clip:false,symbolSize:0,
  data:priceTags.map(t=>({value:[X_MAX,t[1]],label:{formatter:t[0],color:t[2],backgroundColor:t[3],offset:[0,t[4]]}})),
  label:{show:true,position:'right',distance:3,fontFamily:FONT,fontSize:11,borderColor:'#c8c8c8',borderWidth:1,padding:[1,2,0,2],lineHeight:12}}
];
const legend=[[2,32,'Prix'],[35,88,'Bollinger (155 2)'],[124,58.5,'TMA (20)'],[184,130.5,'w comptet ST 2025-02-22']];
const swatches=[['#55c070','#e06060',4],['#7a10b8','#7a10b8',39],['#10f0f0','#10f0f0',128],['#000','#000',187]];
const graphics=[
 {type:'rect',z:50,shape:{x:0,y:0,width:1800,height:19},style:{fill:new echarts.graphic.LinearGradient(0,0,0,1,[{offset:0,color:'#fff'},{offset:1,color:'#eaeaea'}])}},
 {type:'rect',z:51,shape:{x:0,y:0,width:1800,height:1},style:{fill:'#bbb'}},
 {type:'rect',z:51,shape:{x:0,y:19,width:1800,height:1},style:{fill:'#bdbdbd'}},
 {type:'rect',z:51,shape:{x:0,y:971,width:1800,height:1},style:{fill:'#bbb'}},
 {type:'rect',z:51,shape:{x:0,y:20,width:1,height:936},style:{fill:'#c4c4c4'}},
 {type:'rect',z:52,shape:{x:3,y:9,width:5,height:7},style:{fill:'#e05050',stroke:'#a33',lineWidth:.5}},
 {type:'rect',z:52,shape:{x:9,y:5,width:6,height:11},style:{fill:'#48c048',stroke:'#282',lineWidth:.5}},
 {type:'text',z:52,x:21,y:10,style:{text:'US Brut Léger (10$) 1 heure 6 663,1 (-1,22 % 14 mars 2025, 00:23:28',font:'bold 10px '+FONT,fill:'#333',textVerticalAlign:'middle'}},
 {type:'text',z:52,x:1796,y:11,style:{text:'IT-Finance.com',font:'bold 10px '+FONT,fill:'#333',textAlign:'right',textVerticalAlign:'middle'}},
 {type:'text',z:52,x:2,y:950,style:{text:'IT-Finance.com',font:'10px '+FONT,fill:'#333',textVerticalAlign:'middle'}}
];
legend.forEach((l,i)=>{
 graphics.push({type:'rect',z:53,shape:{x:l[0],y:20,width:l[1],height:14},style:{fill:'#f6f6f6',stroke:'#bbb',lineWidth:1}});
 const s=swatches[i];
 graphics.push({type:'rect',z:54,shape:{x:s[2],y:22,width:4.5,height:10},style:{fill:s[0]}});
 graphics.push({type:'rect',z:54,shape:{x:s[2]+4.5,y:22,width:4.5,height:10},style:{fill:s[1]}});
 graphics.push({type:'text',z:54,x:s[2]+11,y:27,style:{text:l[2],font:'10.5px '+FONT,fill:'#444',textVerticalAlign:'middle'}});
});
const chart=echarts.init(document.getElementById('c'),null,{renderer:'canvas'});
chart.setOption({animation:false,backgroundColor:'#fff',textStyle:{fontFamily:FONT},
 grid:{left:0,right:43,top:20,bottom:16,containLabel:false},
 xAxis:{type:'value',min:0,max:X_MAX,
  axisLine:{show:true,onZero:false,lineStyle:{color:'#bdbdbd',width:1}},
  axisTick:{show:false,customValues:xTickSlots},
  axisLabel:{show:true,customValues:xTickSlots,margin:3,color:'#444',fontSize:11,hideOverlap:false,
   formatter:v=>{const n=xTickNames[xTickSlots.indexOf(v)];return n==='mars'?'{b|mars}':n},rich:{b:{fontWeight:'bold',color:'#222',fontSize:11.5}}},
  splitLine:{show:true,lineStyle:{color:'#e4e4e4',width:1}}},
 yAxis:{type:'value',position:'right',min:Y_MIN,max:Y_MAX,scale:true,
  axisLine:{show:true,onZero:false,lineStyle:{color:'#b0b0b0',width:1}},
  axisTick:{show:true,length:3,customValues:yTicks,lineStyle:{color:'#999'}},
  axisLabel:{show:true,customValues:yTicks,margin:5,color:'#555',fontSize:11,hideOverlap:false,
   formatter:v=>(v===7000||v===6500)?'{b|'+fmtPrice(v)+'}':fmtPrice(v),rich:{b:{fontWeight:'bold',color:'#333',fontSize:11.5}}},
  splitLine:{show:false}},
 series,graphic:graphics});
</script></body></html>
